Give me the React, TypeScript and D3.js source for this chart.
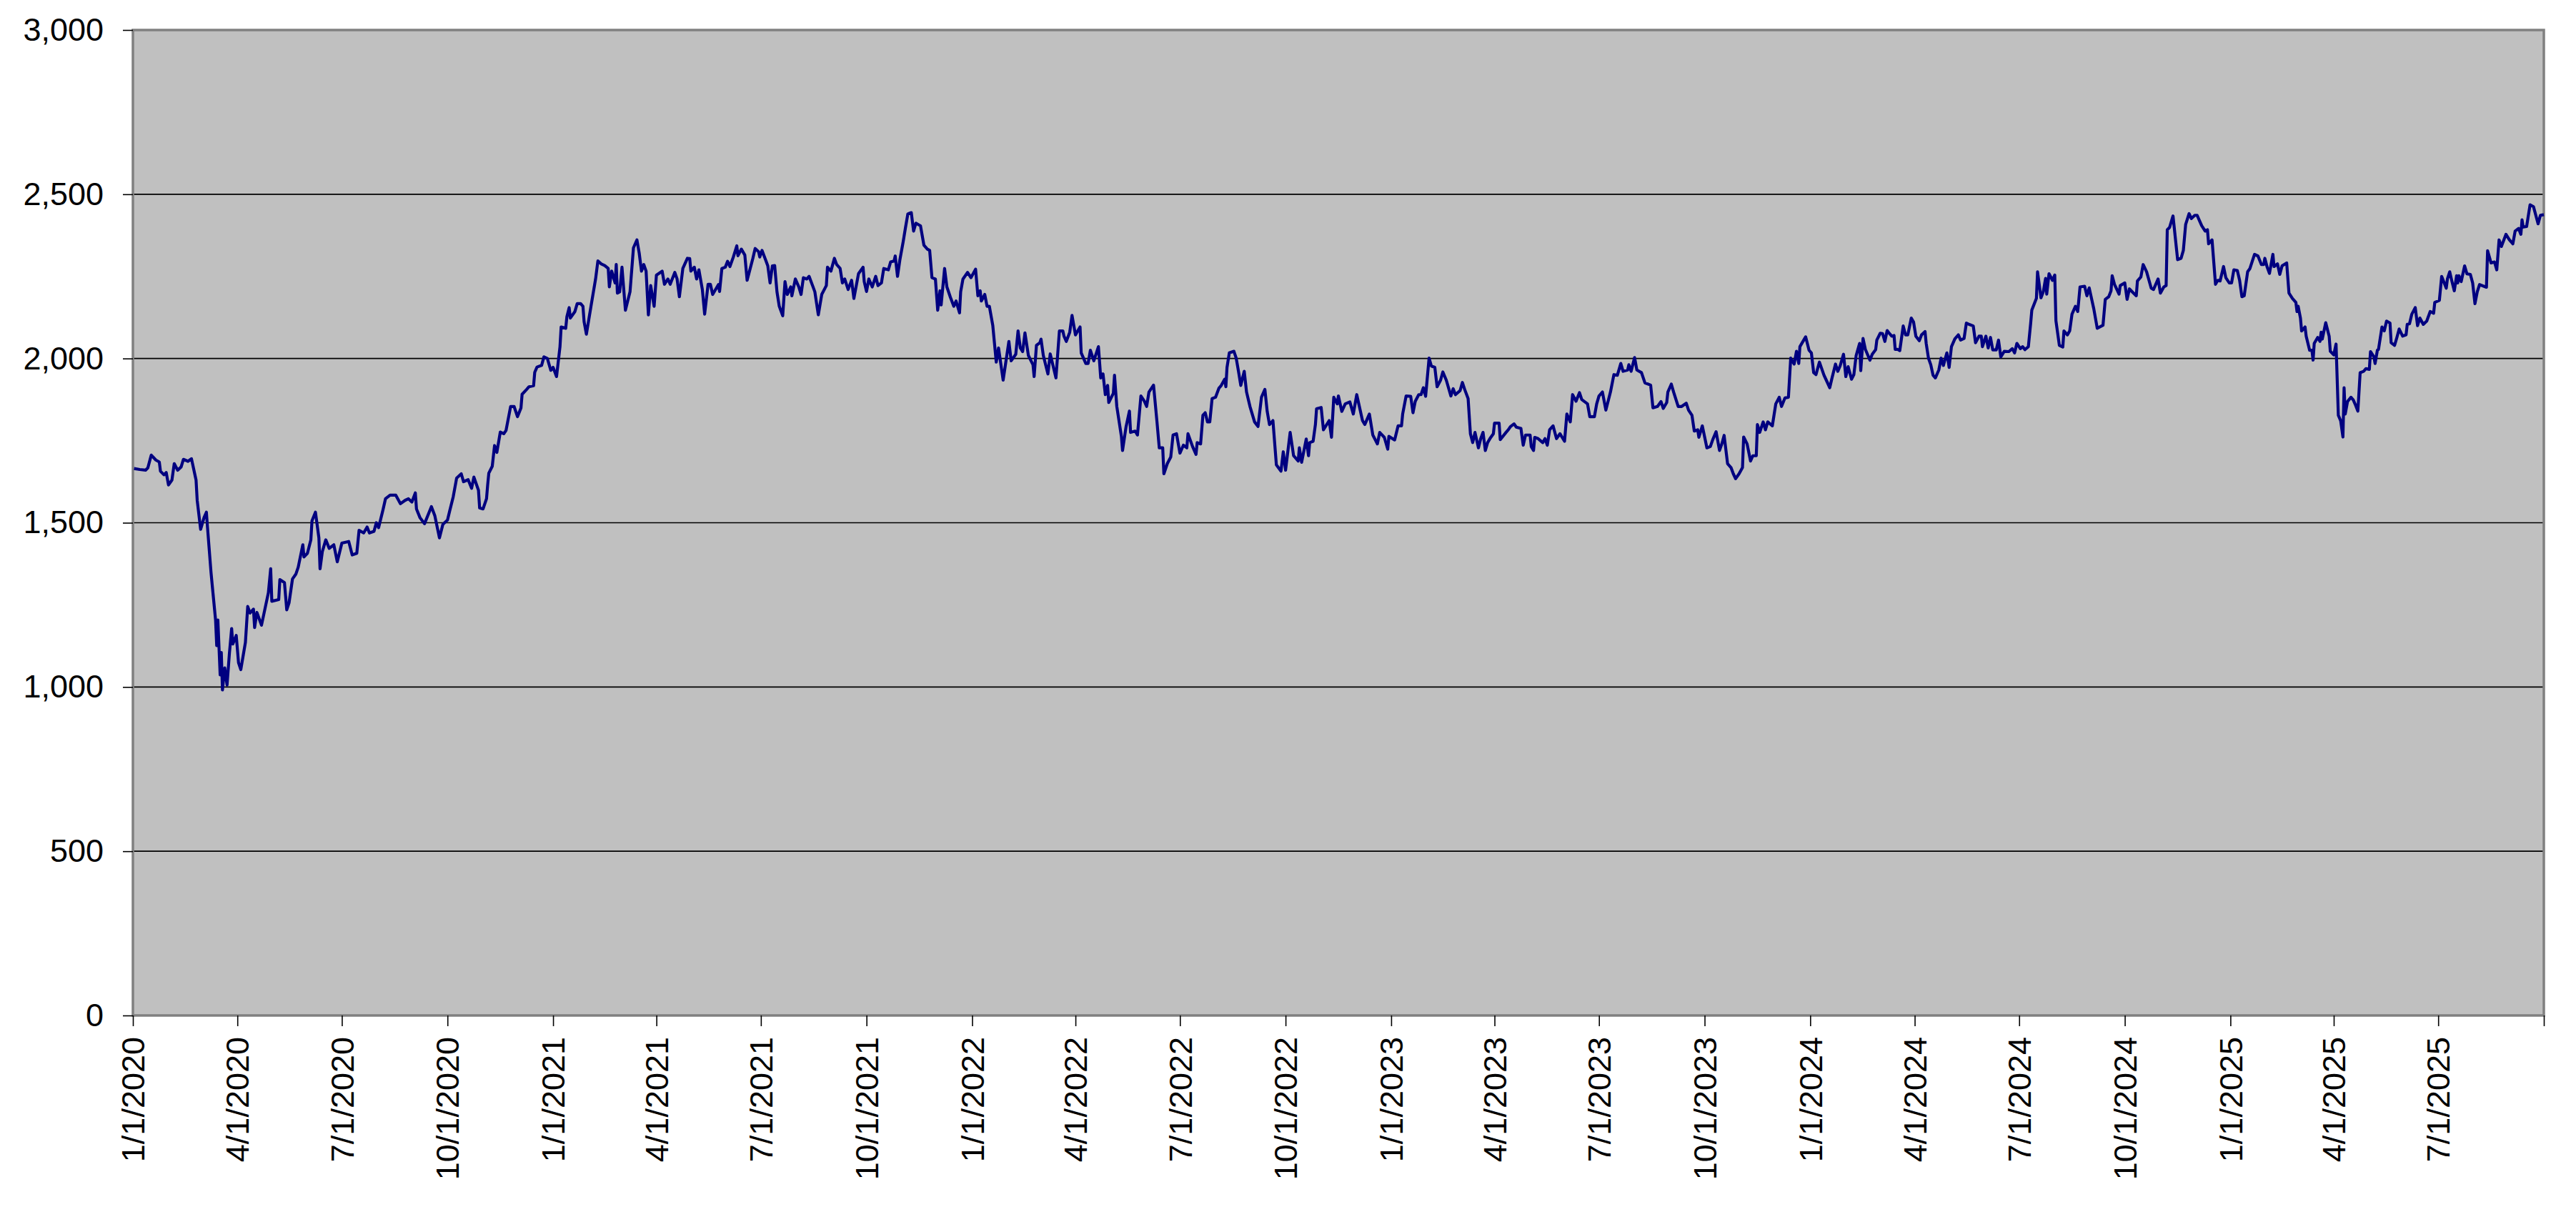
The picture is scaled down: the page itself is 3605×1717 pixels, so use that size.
import { useEffect, useRef } from 'react';
import * as d3 from 'd3';

type Point = { date: Date; value: number };

const startDate = new Date(2020, 0, 1);
const endDate = new Date(2025, 9, 1);

// [days since 1/1/2020, value]
const pts2020: [number, number][] = [
  [1, 1665], [6, 1662], [11, 1660], [13, 1667], [16, 1706], [20, 1691], [23, 1685], [24, 1657], [27, 1646], [29, 1653],
  [31, 1615], [34, 1630], [36, 1680], [39, 1660], [42, 1670], [44, 1693], [48, 1687], [51, 1695], [55, 1630], [56, 1568],
  [59, 1480], [62, 1516], [64, 1532], [65, 1485], [68, 1350], [69, 1313], [72, 1204], [73, 1126], [74, 1204], [76, 1037],
  [77, 1105], [78, 991], [80, 1058], [82, 1006], [84, 1100], [86, 1178], [87, 1131], [90, 1157], [92, 1074], [94, 1053],
  [98, 1136], [100, 1245], [102, 1225], [105, 1237], [106, 1181], [108, 1227], [112, 1188], [118, 1287], [120, 1360], [121, 1261],
  [127, 1266], [128, 1327], [132, 1318], [134, 1235], [136, 1256], [139, 1329], [142, 1344], [144, 1365], [148, 1433], [149, 1396],
  [152, 1407], [155, 1448], [156, 1506], [159, 1532], [162, 1454], [163, 1360], [165, 1412], [168, 1448], [171, 1422], [175, 1433],
  [178, 1381], [182, 1438], [188, 1443], [191, 1402], [195, 1407], [197, 1477], [201, 1469], [204, 1487], [206, 1469], [210, 1474],
  [212, 1500], [214, 1485], [218, 1542], [220, 1573], [224, 1584], [229, 1584], [233, 1558], [237, 1568], [240, 1573], [243, 1563],
  [246, 1591], [247, 1542], [250, 1516], [254, 1497], [260, 1549], [263, 1521], [267, 1454], [270, 1495], [274, 1508], [276, 1537],
  [279, 1579], [282, 1636], [286, 1649], [288, 1625], [292, 1631], [295, 1605], [297, 1639], [301, 1599], [302, 1545], [305, 1542],
  [308, 1573], [309, 1615], [310, 1651], [313, 1672], [315, 1735], [317, 1714], [320, 1776], [323, 1771], [325, 1781], [329, 1854],
  [332, 1854], [335, 1823], [338, 1849], [339, 1891], [343, 1906], [345, 1914], [349, 1917], [350, 1958], [352, 1974], [356, 1979],
  [358, 2005], [361, 2000], [364, 1964],
];

const pts2021: [number, number][] = [
  [366, 1973], [369, 1945], [372, 2036], [373, 2096], [377, 2092], [378, 2127], [380, 2155], [381, 2123], [385, 2143], [387, 2167],
  [390, 2167], [392, 2159], [393, 2112], [395, 2074], [399, 2159], [403, 2242], [405, 2297], [408, 2288], [411, 2283], [414, 2274],
  [415, 2218], [417, 2266], [420, 2230], [421, 2286], [422, 2199], [424, 2203], [426, 2278], [429, 2147], [433, 2203], [436, 2337],
  [439, 2361], [441, 2321], [443, 2266], [445, 2286], [447, 2266], [449, 2133], [451, 2222], [454, 2159], [456, 2254], [461, 2266],
  [463, 2226], [466, 2242], [468, 2226], [472, 2262], [474, 2242], [476, 2188], [479, 2274], [483, 2305], [485, 2304], [486, 2266],
  [489, 2278], [491, 2242], [493, 2270], [496, 2210], [498, 2135], [501, 2226], [503, 2226], [505, 2195], [510, 2225], [511, 2204],
  [513, 2274], [516, 2278], [518, 2296], [520, 2280], [523, 2309], [526, 2343], [527, 2313], [530, 2333], [533, 2315], [535, 2238],
  [540, 2305], [542, 2335], [545, 2325], [546, 2309], [548, 2329], [551, 2301], [553, 2282], [555, 2230], [557, 2282], [559, 2283],
  [561, 2203], [563, 2159], [566, 2130], [568, 2234], [570, 2195], [573, 2218], [574, 2191], [577, 2242], [580, 2218], [582, 2195],
  [584, 2246], [587, 2242], [589, 2250], [592, 2222], [594, 2203], [597, 2133], [600, 2195], [604, 2222], [605, 2278], [608, 2266],
  [611, 2305], [613, 2286], [616, 2274], [618, 2230], [620, 2242], [623, 2210], [626, 2238], [628, 2183], [632, 2258], [636, 2278],
  [637, 2234], [639, 2204], [641, 2242], [644, 2218], [647, 2250], [649, 2222], [652, 2230], [654, 2274], [658, 2270], [660, 2294],
  [663, 2297], [664, 2312], [666, 2250], [668, 2299], [671, 2357], [673, 2400], [675, 2440], [678, 2444], [680, 2388], [682, 2412],
  [686, 2404], [689, 2345], [692, 2333], [694, 2329], [696, 2246], [699, 2242], [701, 2147], [703, 2206], [704, 2163], [707, 2274],
  [709, 2218], [712, 2187], [715, 2159], [717, 2175], [720, 2139], [721, 2203], [723, 2242], [727, 2262], [730, 2246],
];

const pts2022: [number, number][] = [
  [734, 2272], [736, 2191], [738, 2206], [739, 2175], [742, 2195], [744, 2159], [746, 2159], [749, 2100], [752, 1989], [754, 2032],
  [758, 1934], [763, 2052], [765, 1993], [769, 2013], [771, 2084], [773, 2032], [775, 2021], [777, 2078], [780, 2009], [784, 1981],
  [785, 1945], [787, 2040], [790, 2048], [791, 2059], [793, 2009], [797, 1953], [799, 2014], [804, 1941], [807, 2084], [810, 2084],
  [811, 2068], [813, 2052], [816, 2080], [818, 2131], [821, 2072], [825, 2096], [826, 2017], [830, 1985], [832, 1985], [834, 2025],
  [837, 1993], [841, 2036], [843, 1941], [845, 1953], [847, 1890], [849, 1918], [850, 1866], [854, 1894], [855, 1949], [857, 1854],
  [861, 1763], [862, 1720], [865, 1791], [868, 1840], [869, 1775], [873, 1779], [875, 1767], [878, 1886], [881, 1870], [883, 1854],
  [885, 1898], [889, 1919], [892, 1807], [894, 1728], [897, 1728], [898, 1649], [901, 1680], [904, 1700], [906, 1767], [909, 1771],
  [912, 1712], [915, 1736], [918, 1728], [919, 1771], [923, 1732], [926, 1708], [927, 1744], [930, 1740], [932, 1827], [934, 1835],
  [936, 1807], [938, 1807], [940, 1878], [943, 1882], [946, 1910], [948, 1918], [951, 1937], [952, 1914], [953, 1973], [955, 2017],
  [959, 2022], [961, 2001], [963, 1961], [965, 1918], [968, 1961], [970, 1898], [973, 1854], [977, 1807], [980, 1793], [983, 1882],
  [986, 1906], [988, 1839], [990, 1799], [993, 1811], [996, 1676], [1000, 1657], [1002, 1716], [1004, 1660], [1008, 1775], [1011, 1704],
  [1015, 1688], [1016, 1728], [1018, 1684], [1022, 1755], [1024, 1704], [1025, 1744], [1028, 1748], [1030, 1799], [1031, 1847], [1035, 1851],
  [1037, 1783], [1042, 1811], [1044, 1760], [1046, 1882], [1049, 1862], [1050, 1886], [1053, 1839], [1056, 1862], [1060, 1868], [1063, 1831],
  [1066, 1890], [1071, 1811], [1073, 1799], [1077, 1831], [1080, 1767], [1084, 1740], [1086, 1775], [1090, 1760], [1093, 1724], [1094, 1763],
];

const pts2023: [number, number][] = [
  [1099, 1752], [1102, 1795], [1105, 1795], [1106, 1831], [1109, 1886], [1113, 1885], [1115, 1835], [1117, 1870], [1120, 1890], [1122, 1890],
  [1124, 1911], [1126, 1885], [1129, 2001], [1131, 1977], [1134, 1973], [1136, 1914], [1139, 1934], [1141, 1959], [1144, 1934], [1148, 1886],
  [1150, 1908], [1152, 1890], [1156, 1902], [1158, 1927], [1160, 1906], [1163, 1878], [1165, 1771], [1167, 1744], [1169, 1775], [1172, 1728],
  [1174, 1756], [1176, 1775], [1178, 1720], [1180, 1744], [1182, 1756], [1185, 1771], [1186, 1803], [1190, 1803], [1191, 1753], [1196, 1775],
  [1198, 1783], [1200, 1793], [1203, 1801], [1205, 1791], [1209, 1787], [1211, 1736], [1213, 1767], [1217, 1767], [1218, 1732], [1220, 1720],
  [1221, 1760], [1224, 1756], [1228, 1744], [1230, 1756], [1232, 1736], [1234, 1783], [1237, 1795], [1240, 1756], [1243, 1771], [1247, 1748],
  [1249, 1831], [1252, 1807], [1254, 1890], [1257, 1870], [1260, 1896], [1262, 1875], [1267, 1862], [1269, 1823], [1273, 1823], [1275, 1862],
  [1277, 1886], [1280, 1898], [1283, 1843], [1287, 1898], [1290, 1951], [1293, 1949], [1296, 1985], [1298, 1961], [1302, 1965], [1303, 1981],
  [1305, 1961], [1308, 2003], [1310, 1965], [1314, 1957], [1317, 1926], [1322, 1919], [1324, 1850], [1328, 1854], [1331, 1869], [1333, 1848],
  [1336, 1866], [1337, 1898], [1340, 1922], [1342, 1898], [1346, 1854], [1349, 1854], [1353, 1864], [1355, 1843], [1358, 1827], [1360, 1779],
  [1363, 1783], [1364, 1760], [1367, 1795], [1371, 1728], [1374, 1732], [1376, 1752], [1379, 1777], [1382, 1720], [1384, 1740], [1386, 1766],
  [1389, 1680], [1392, 1668], [1394, 1649], [1396, 1634], [1399, 1649], [1402, 1668], [1403, 1761], [1406, 1740], [1409, 1688], [1411, 1704],
  [1414, 1704], [1415, 1799], [1417, 1775], [1420, 1807], [1422, 1783], [1424, 1807], [1428, 1795], [1431, 1862], [1434, 1882], [1436, 1854],
  [1439, 1880], [1442, 1882], [1444, 2001], [1447, 1983], [1449, 2022], [1451, 1985], [1452, 2036], [1457, 2066], [1460, 2025],
];

const pts2024: [number, number][] = [
  [1462, 2017], [1464, 1957], [1466, 1951], [1469, 1989], [1473, 1949], [1475, 1934], [1478, 1911], [1480, 1941], [1483, 1983], [1485, 1961],
  [1487, 1977], [1490, 2013], [1492, 1945], [1494, 1975], [1497, 1937], [1499, 1951], [1501, 2009], [1504, 2046], [1505, 1963], [1507, 2061],
  [1509, 2028], [1513, 1995], [1515, 2013], [1518, 2027], [1519, 2056], [1522, 2077], [1524, 2076], [1526, 2052], [1528, 2085], [1530, 2076],
  [1532, 2068], [1534, 2070], [1535, 2028], [1537, 2028], [1539, 2024], [1542, 2099], [1544, 2072], [1546, 2072], [1549, 2123], [1551, 2111],
  [1553, 2068], [1556, 2054], [1558, 2072], [1561, 2082], [1562, 2046], [1564, 2001], [1566, 1981], [1568, 1949], [1570, 1941], [1573, 1965],
  [1575, 2001], [1577, 1979], [1580, 2017], [1582, 1973], [1584, 2036], [1587, 2060], [1590, 2072], [1592, 2056], [1595, 2061], [1597, 2108],
  [1600, 2103], [1603, 2099], [1605, 2048], [1608, 2068], [1610, 2068], [1611, 2036], [1614, 2068], [1616, 2032], [1618, 2064], [1620, 2026],
  [1623, 2026], [1625, 2056], [1627, 2005], [1630, 2022], [1634, 2021], [1637, 2030], [1639, 2017], [1641, 2046], [1644, 2030], [1646, 2036],
  [1648, 2027], [1651, 2036], [1653, 2107], [1654, 2147], [1658, 2183], [1659, 2264], [1662, 2185], [1664, 2203], [1666, 2244], [1667, 2196],
  [1669, 2258], [1672, 2238], [1674, 2254], [1675, 2115], [1678, 2040], [1681, 2035], [1682, 2084], [1685, 2072], [1687, 2084], [1689, 2135],
  [1692, 2159], [1694, 2143], [1696, 2218], [1700, 2220], [1702, 2191], [1704, 2215], [1708, 2151], [1711, 2092], [1716, 2101], [1718, 2180],
  [1721, 2188], [1723, 2206], [1724, 2252], [1726, 2226], [1730, 2196], [1731, 2222], [1735, 2230], [1737, 2180], [1739, 2212], [1742, 2201],
  [1745, 2191], [1746, 2236], [1749, 2248], [1751, 2286], [1754, 2264], [1758, 2214], [1760, 2210], [1764, 2242], [1766, 2199], [1769, 2218],
  [1771, 2222], [1772, 2392], [1774, 2399], [1777, 2434], [1781, 2301], [1784, 2305], [1786, 2329], [1788, 2408], [1791, 2441], [1793, 2426],
  [1796, 2436], [1798, 2436], [1800, 2420], [1802, 2404], [1805, 2388], [1807, 2392], [1808, 2349], [1811, 2361], [1814, 2226], [1816, 2238],
  [1818, 2236], [1821, 2280], [1823, 2246], [1826, 2230],
];

const pts2025: [number, number][] = [
  [1828, 2230], [1830, 2270], [1833, 2268], [1835, 2238], [1837, 2188], [1839, 2191], [1842, 2264], [1844, 2274], [1848, 2317], [1851, 2312],
  [1854, 2286], [1856, 2286], [1857, 2305], [1859, 2278], [1861, 2259], [1864, 2317], [1865, 2280], [1868, 2288], [1870, 2256], [1872, 2282],
  [1876, 2291], [1878, 2199], [1881, 2183], [1884, 2171], [1885, 2143], [1886, 2159], [1888, 2123], [1889, 2084], [1892, 2096], [1893, 2068],
  [1896, 2025], [1898, 2025], [1899, 1995], [1900, 2046], [1903, 2064], [1905, 2052], [1906, 2080], [1907, 2059], [1910, 2109], [1913, 2068],
  [1914, 2022], [1917, 2011], [1919, 2044], [1921, 1827], [1923, 1811], [1925, 1761], [1926, 1911], [1927, 1831], [1929, 1869], [1932, 1882],
  [1934, 1874], [1936, 1858], [1938, 1840], [1940, 1957], [1943, 1961], [1945, 1969], [1948, 1967], [1949, 2021], [1952, 2005], [1953, 1985],
  [1955, 2025], [1956, 2028], [1959, 2096], [1961, 2084], [1963, 2114], [1966, 2108], [1967, 2048], [1970, 2040], [1972, 2064], [1974, 2090],
  [1977, 2068], [1980, 2072], [1981, 2104], [1983, 2106], [1985, 2135], [1988, 2155], [1990, 2100], [1992, 2123], [1995, 2104], [1998, 2114],
  [2001, 2143], [2004, 2138], [2005, 2171], [2009, 2177], [2011, 2250], [2015, 2214], [2016, 2242], [2018, 2264], [2020, 2234], [2022, 2206],
  [2024, 2252], [2025, 2230], [2026, 2252], [2028, 2234], [2031, 2282], [2033, 2258], [2036, 2256], [2038, 2230], [2040, 2167], [2042, 2203],
  [2044, 2225], [2050, 2217], [2051, 2328], [2054, 2291], [2057, 2294], [2059, 2270], [2061, 2361], [2063, 2341], [2067, 2378], [2070, 2361],
  [2073, 2349], [2075, 2388], [2078, 2396], [2080, 2378], [2081, 2422], [2082, 2400], [2085, 2402], [2088, 2468], [2091, 2462], [2095, 2410],
  [2097, 2436], [2100, 2438],
];

const yTicks = [0, 500, 1000, 1500, 2000, 2500, 3000];

const width = 3605;
const height = 1717;
const margin = { top: 42, right: 45, bottom: 296, left: 186 };
const fontFamily = '"Liberation Sans", Arial, Helvetica, sans-serif';

const formatDate = (d: Date) => `${d.getMonth() + 1}/${d.getDate()}/${d.getFullYear()}`;

const App = () => {
  const ref = useRef<SVGSVGElement | null>(null);

  useEffect(() => {
    if (!ref.current) return;

    const svg = d3.select(ref.current);
    svg.selectAll('*').remove();

    const innerWidth = width - margin.left - margin.right;
    const innerHeight = height - margin.top - margin.bottom;

    const data: Point[] = [...pts2020, ...pts2021, ...pts2022, ...pts2023, ...pts2024, ...pts2025].map(
      ([day, value]) => ({ date: d3.timeDay.offset(startDate, day), value }),
    );

    const xScale = d3.scaleTime().domain([startDate, endDate]).range([0, innerWidth]);
    const yScale = d3.scaleLinear().domain([0, 3000]).range([innerHeight, 0]);

    const g = svg.append('g').attr('transform', `translate(${margin.left},${margin.top})`);

    // plot area
    g.append('rect')
      .attr('x', 0)
      .attr('y', 0)
      .attr('width', innerWidth)
      .attr('height', innerHeight)
      .attr('fill', '#c0c0c0');

    // gridlines
    g.append('g')
      .selectAll('line')
      .data(yTicks.filter((t) => t > 0 && t < 3000))
      .enter()
      .append('line')
      .attr('x1', 0)
      .attr('x2', innerWidth)
      .attr('y1', (t) => yScale(t))
      .attr('y2', (t) => yScale(t))
      .attr('stroke', '#000')
      .attr('stroke-width', 1.6);

    g.append('rect')
      .attr('x', 0)
      .attr('y', 0)
      .attr('width', innerWidth)
      .attr('height', innerHeight)
      .attr('fill', 'none')
      .attr('stroke', '#808080')
      .attr('stroke-width', 3.5);

    // y axis
    const yAxis = g
      .append('g')
      .call(
        d3
          .axisLeft(yScale)
          .tickValues(yTicks)
          .tickSize(14)
          .tickPadding(27)
          .tickFormat((d) => d3.format(',')(d as number)),
      );
    yAxis.select('.domain').remove();
    yAxis.selectAll('line').attr('stroke', '#000').attr('stroke-width', 1.6);
    yAxis
      .selectAll('text')
      .attr('font-family', fontFamily)
      .attr('font-size', 45)
      .attr('fill', '#000');

    // x axis, quarterly ticks
    const xTicks = d3.timeMonth.range(startDate, d3.timeDay.offset(endDate, 1), 3);
    const xAxis = g
      .append('g')
      .attr('transform', `translate(0,${innerHeight})`)
      .call(
        d3
          .axisBottom(xScale)
          .tickValues(xTicks)
          .tickSize(15)
          .tickFormat((d, i) => (i === xTicks.length - 1 ? '' : formatDate(d as Date))),
      );
    xAxis.select('.domain').remove();
    xAxis.selectAll('line').attr('stroke', '#000').attr('stroke-width', 1.6);
    xAxis
      .selectAll('text')
      .attr('font-family', fontFamily)
      .attr('font-size', 45)
      .attr('fill', '#000')
      .attr('transform', 'rotate(-90)')
      .attr('text-anchor', 'end')
      .attr('x', -30)
      .attr('y', 0)
      .attr('dy', '0.35em');

    // series
    const line = d3
      .line<Point>()
      .x((d) => xScale(d.date))
      .y((d) => yScale(d.value));

    g.append('path')
      .datum(data)
      .attr('d', line)
      .attr('fill', 'none')
      .attr('stroke', '#000080')
      .attr('stroke-width', 4.2)
      .attr('stroke-linejoin', 'round');
  }, []);

  return (
    <svg
      ref={ref}
      width={width}
      height={height}
      viewBox={`0 0 ${width} ${height}`}
      style={{ position: 'absolute', left: 0, top: 0, display: 'block', background: '#fff' }}
      role="img"
      aria-label="Line chart 2020-2025"
    />
  );
};

export default App;
